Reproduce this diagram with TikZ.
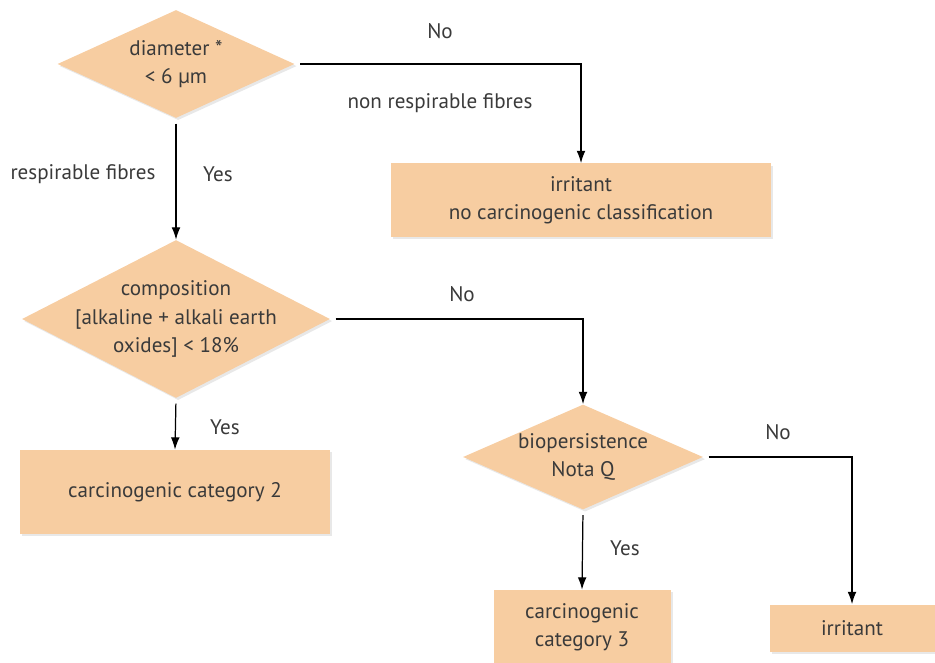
\documentclass[tikz,border=0pt]{standalone}
\usepackage{fontspec}
\setmainfont{PT Sans}
\usetikzlibrary{shapes.geometric,shadows,arrows.meta}
\definecolor{peach}{HTML}{F7CDA1}
\definecolor{ink}{HTML}{3A3A3A}
\tikzset{
  decision/.style={diamond, fill=peach, inner sep=-6pt, align=center, text=ink,
    drop shadow={opacity=0.18, shadow xshift=1.2pt, shadow yshift=-1.2pt}},
  result/.style={rectangle, fill=peach, inner sep=0pt, align=center, text=ink,
    drop shadow={opacity=0.18, shadow xshift=1.2pt, shadow yshift=-1.2pt}},
  flow/.style={-{Latex[length=7pt,width=5pt]}, line width=0.7pt},
  answer/.style={text=ink}
}
\begin{document}
\begin{tikzpicture}[x=0.02cm, y=-0.02cm, font=\fontsize{12}{16}\selectfont]
      \useasboundingbox (0,0) rectangle (935,662);

      \node[decision, minimum width=237*0.02cm, minimum height=108*0.02cm, aspect=2.2] (diam) at (176,64) {diameter *\\< 6 µm};
      \node[result, minimum width=380*0.02cm, minimum height=73*0.02cm] (irr1) at (581,200) {irritant\\no carcinogenic classification};
      \node[decision, minimum width=308*0.02cm, minimum height=158*0.02cm, aspect=1.95] (comp) at (176,319) {composition\\{[}alkaline + alkali earth\\oxides{]} < 18\%};
      \node[result, minimum width=310*0.02cm, minimum height=84*0.02cm] (cat2) at (175,492) {carcinogenic category 2};
      \node[decision, minimum width=240*0.02cm, minimum height=105*0.02cm, aspect=2.28] (bio) at (583,457) {biopersistence\\Nota Q};
      \node[result, minimum width=177*0.02cm, minimum height=74*0.02cm] (cat3) at (582,627) {carcinogenic\\category 3};
      \node[result, minimum width=165*0.02cm, minimum height=47*0.02cm] (irr2) at (852,628) {irritant};

      \draw[flow, shorten <=3pt] (diam.east) -| (irr1.north);
      \draw[flow, shorten <=3pt] (diam.south) -- (comp.north);
      \draw[flow, shorten <=3pt] (comp.east) -| (bio.north);
      \draw[flow, shorten <=3pt] (comp.south) -- (cat2.north);
      \draw[flow, shorten <=3pt] (bio.east) -| (irr2.north);
      \draw[flow, shorten <=3pt] (bio.south) -- (cat3.north);

      \node[answer] (no1) at (440,31) {No};
      \node[answer] (nonresp) at (440,103) {non respirable fibres};
      \node[answer] (resp) at (83,174) {respirable fibres};
      \node[answer] (yes1) at (218,174) {Yes};
      \node[answer] (no2) at (462,294) {No};
      \node[answer] (yes2) at (225,427) {Yes};
      \node[answer] (no3) at (778,432) {No};
      \node[answer] (yes3) at (625,548) {Yes};
    \end{tikzpicture}
\end{document}
